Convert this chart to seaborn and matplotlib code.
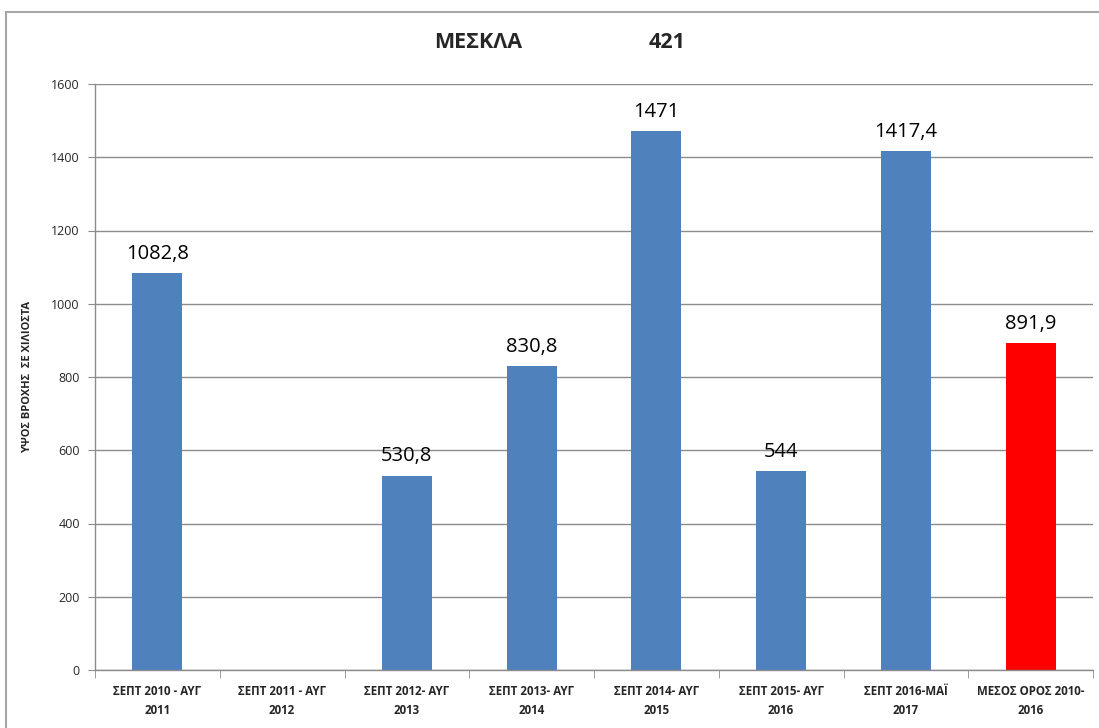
import numpy as np
import pandas as pd
import matplotlib
matplotlib.use("Agg")
import matplotlib.pyplot as plt
from matplotlib.patches import Rectangle
from matplotlib.ticker import FixedLocator
import seaborn as sns

# data
periods = ["ΣΕΠΤ 2010 - ΑΥΓ\n2011", "ΣΕΠΤ 2011 - ΑΥΓ\n2012", "ΣΕΠΤ 2012- ΑΥΓ\n2013",
           "ΣΕΠΤ 2013- ΑΥΓ\n2014", "ΣΕΠΤ 2014- ΑΥΓ\n2015", "ΣΕΠΤ 2015- ΑΥΓ\n2016",
           "ΣΕΠΤ 2016-ΜΑΪ\n2017", "ΜΕΣΟΣ ΟΡΟΣ 2010-\n2016"]
rain = [1082.8, np.nan, 530.8, 830.8, 1471, 544, 1417.4, 891.9]
value_labels = ["1082,8", "", "530,8", "830,8", "1471", "544", "1417,4", "891,9"]
bar_colors = ["#4F81BD"] * 7 + ["#FF0000"]

sns.set_style("white")
plt.rcParams["font.family"] = ["Open Sans", "DejaVu Sans"]

df = pd.DataFrame({"period": periods, "rain": rain})

fig = plt.figure(figsize=(10.99, 7.28), dpi=100)
ax = fig.add_axes([95 / 1099, 1 - 670 / 728, (1093 - 95) / 1099, (670 - 84) / 728])

sns.barplot(data=df, x="period", y="rain", hue="period", palette=bar_colors,
            width=0.4, legend=False, ax=ax, saturation=1, linewidth=0)

for i, (v, lab) in enumerate(zip(rain, value_labels)):
    if lab:
        ax.text(i, v + 25, lab, ha="center", va="bottom", fontsize=14.5, color="black")

ax.set_xlim(-0.5, len(periods) - 0.5)
ax.set_ylim(0, 1600)
ax.set_yticks(range(0, 1601, 200))
ax.yaxis.grid(True, color="#8c8c8c", linewidth=1)
ax.set_axisbelow(True)
ax.tick_params(axis="y", labelsize=9, length=5, color="#8c8c8c", left=True, pad=6)

ax.xaxis.set_minor_locator(FixedLocator(np.arange(-0.5, len(periods), 1)))
ax.tick_params(axis="x", which="major", length=0, labelsize=8.3, pad=11)
ax.tick_params(axis="x", which="minor", length=6, color="#8c8c8c", bottom=True)
for t in ax.get_xticklabels():
    t.set_fontweight("bold")
    t.set_linespacing(1.55)

ax.set_xlabel("")
ax.set_ylabel("ΥΨΟΣ ΒΡΟΧΗΣ  ΣΕ ΧΙΛΙΟΣΤΑ", fontsize=8, fontweight="bold", labelpad=13)

for s in ["top", "right"]:
    ax.spines[s].set_visible(False)
for s in ["left", "bottom"]:
    ax.spines[s].set_color("#8c8c8c")
    ax.spines[s].set_linewidth(1)

fig.text(478 / 1099, 1 - 42 / 728, "ΜΕΣΚΛΑ", ha="center", va="center", fontsize=15.5, fontweight="bold")
fig.text(667 / 1099, 1 - 42 / 728, "421", ha="center", va="center", fontsize=15.5, fontweight="bold")

# chart border
fig.patches.append(Rectangle((6 / 1099, -0.1), 1.2, 1 - 12 / 728 + 0.1, transform=fig.transFigure,
                             fill=False, edgecolor="#a6a6a6", linewidth=1.5))

fig.savefig("out.png", dpi=100)
